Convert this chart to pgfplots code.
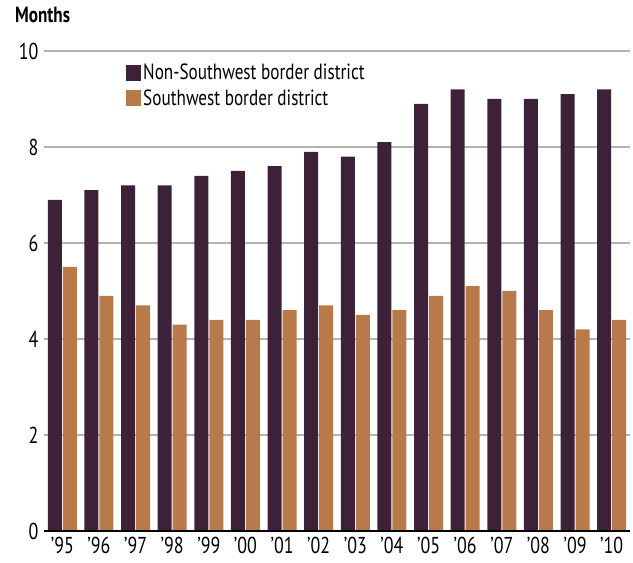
\documentclass[border=0pt]{standalone}
\usepackage{fontspec}
\setmainfont{PT Sans}[FakeStretch=0.78]
\usepackage{pgfplots}
\pgfplotsset{compat=1.18}
\definecolor{plum}{HTML}{3D2139}
\definecolor{copper}{HTML}{B87A4A}
\definecolor{gridgray}{HTML}{B3B3B3}
\begin{document}
\begin{tikzpicture}
\begin{axis}[
  at={(0,0)}, anchor=south west,
  scale only axis, width=586pt, height=480pt,
  xmin=-0.5, xmax=15.5, ymin=0, ymax=10,
  ybar=1pt, bar width=14pt,
  axis line style={draw=none},
  ytick={0,2,4,6,8,10},
  ymajorgrids, grid style={gridgray, line width=1.5pt},
  xtick={0,...,15},
  xticklabels={’95,’96,’97,’98,’99,’00,’01,’02,’03,’04,’05,’06,’07,’08,’09,’10},
  major tick length=0pt,
  tick label style={font=\fontsize{23}{25}\selectfont},
  /pgf/number format/assume math mode=true,
  yticklabel style={xshift=-2pt},
  xticklabel style={yshift=-3pt},
  legend style={draw=none, fill=none, at={(axis description cs:0.14,0.977)}, anchor=north west, inner sep=0pt,
    font=\fontsize{22}{24}\selectfont, row sep=4pt, cells={anchor=west}},
  legend image code/.code={\fill[#1] (0pt,-8pt) rectangle (15pt,8pt);},
  legend cell align=left,
  clip=false,
]
\addplot[fill=plum, draw=none] coordinates {
 (0,6.9) (1,7.1) (2,7.2) (3,7.2) (4,7.4) (5,7.5) (6,7.6) (7,7.9)
 (8,7.8) (9,8.1) (10,8.9) (11,9.2) (12,9.0) (13,9.0) (14,9.1) (15,9.2)};
\addplot[fill=copper, draw=none] coordinates {
 (0,5.5) (1,4.9) (2,4.7) (3,4.3) (4,4.4) (5,4.4) (6,4.6) (7,4.7)
 (8,4.5) (9,4.6) (10,4.9) (11,5.1) (12,5.0) (13,4.6) (14,4.2) (15,4.4)};
\legend{Non-Southwest border district, Southwest border district}
\draw[black, line width=2pt] (axis cs:-0.5,0) -- (axis cs:15.5,0);
\node[anchor=north west, inner sep=0pt, font=\bfseries\fontsize{22}{24}\selectfont] at (axis description cs:-0.0495,1.092) {Months};
\end{axis}
\path[use as bounding box] (-44pt,-32pt) rectangle (589pt,531pt);
\end{tikzpicture}
\end{document}
